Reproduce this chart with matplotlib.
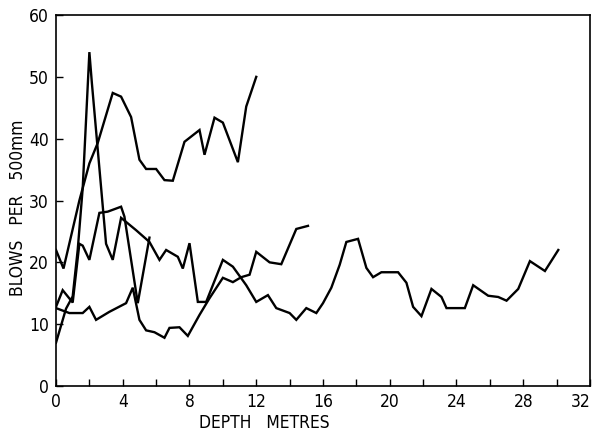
"""Blows per 500 mm vs depth - four penetration test profiles"""
import matplotlib
matplotlib.use("Agg")
import matplotlib.pyplot as plt
import matplotlib.transforms as mtransforms

plt.rcParams["font.family"] = ["Liberation Sans Narrow", "DejaVu Sans"]
plt.rcParams["font.stretch"] = "condensed"   # old drafting lettering is narrow

# profile A: starts ~22, rises to the 47 hump, ends at 12 m / 50 blows
depth_a = [0, 0.45, 1.4, 2.0, 2.5, 3.4, 3.9, 4.5, 5.0, 5.4, 6.0, 6.5, 7.0, 7.7,
           8.6, 8.9, 9.5, 10.0, 10.9, 11.4, 12.0]
blows_a = [22, 19, 30, 36, 39.3, 47.4, 46.8, 43.5, 36.6, 35.1, 35.1, 33.3, 33.2, 39.5,
           41.4, 37.4, 43.4, 42.6, 36.2, 45.2, 50]

# profile B: short one, plateau at ~29, ends at 5.6 m
depth_b = [0, 0.4, 1.0, 1.4, 1.6, 2.0, 2.6, 3.1, 3.9, 4.1, 4.9, 5.6]
blows_b = [12.8, 15.5, 13.5, 23, 22.7, 20.4, 28, 28.2, 29, 27.4, 13.4, 24]

# profile C: the 54 spike, then the long run out to 30 m
depth_c = [0, 0.6, 1.0, 1.3, 1.6, 2.0, 2.15, 3.0, 3.4, 3.9, 4.8, 5.6, 6.2, 6.6,
           7.3, 7.6, 8.0, 8.5, 9.0, 10.0, 10.6, 11.4, 12.0, 12.7, 13.2, 14.0,
           14.4, 15.0, 15.6, 16.0, 16.5, 17.0, 17.4, 18.1, 18.6, 19.0, 19.5,
           20.5, 21.0, 21.4, 21.9, 22.5, 23.1, 23.4, 24.5, 25.0, 25.9, 26.5,
           27.0, 27.7, 28.4, 29.3, 30.1]
blows_c = [7, 12.5, 14.5, 22, 32, 54, 49, 23, 20.4, 27.2, 25.2, 23.3, 20.4, 22,
           20.9, 19, 23.1, 13.6, 13.6, 20.4, 19.3, 16.3, 13.6, 14.7, 12.6, 11.8,
           10.7, 12.6, 11.8, 13.4, 15.9, 19.6, 23.3, 23.8, 19.1, 17.6, 18.4,
           18.4, 16.7, 12.8, 11.3, 15.7, 14.4, 12.6, 12.6, 16.3, 14.6, 14.4,
           13.8, 15.7, 20.2, 18.6, 22]

# profile D: low and bumpy, ends at 15 m / ~26
depth_d = [0, 0.8, 1.6, 2.0, 2.4, 3.2, 4.2, 4.6, 5.0, 5.4, 5.9, 6.5, 6.8, 7.4,
           7.9, 8.6, 9.2, 10.0, 10.6, 11.1, 11.6, 12.0, 12.8, 13.5, 14.4, 15.1]
blows_d = [12.6, 11.8, 11.8, 12.8, 10.7, 12, 13.4, 15.9, 10.7, 9, 8.7, 7.8, 9.4, 9.5,
           8.1, 11.5, 14.2, 17.5, 16.8, 17.6, 18, 21.7, 20, 19.7, 25.4, 25.9]

x_major = list(range(0, 33, 4))
x_minor = list(range(0, 33, 2))
y_major = list(range(0, 61, 10))

fig = plt.figure(figsize=(5.92, 4.38), dpi=100)
ax = fig.add_axes([0.0946, 0.1187, 0.902, 0.847])

for d, b in ((depth_a, blows_a), (depth_b, blows_b), (depth_c, blows_c), (depth_d, blows_d)):
    ax.plot(d, b, color="black", lw=1.7, solid_joinstyle="miter")

ax.set_xlim(0, 32)
ax.set_ylim(0, 60)
ax.set_xticks(x_major)
ax.set_xticks(x_minor, minor=True)
ax.set_yticks(y_major)
ax.tick_params(direction="in", length=5, width=1, labelsize=12.5, pad=5)
ax.tick_params(which="minor", direction="in", length=5, width=1)
for s in ax.spines.values():
    s.set_linewidth(1.2)

# last x label sits against the page edge; nudge it left so it stays whole
last = ax.get_xticklabels()[-1]
last.set_transform(last.get_transform() + mtransforms.ScaledTranslation(-7 / 72, 0, fig.dpi_scale_trans))

ax.set_xlabel("DEPTH   METRES", fontsize=12.5)
ax.xaxis.set_label_coords(0.39, -0.075)
ax.set_ylabel("BLOWS   PER   500mm", fontsize=12.5)
ax.yaxis.set_label_coords(-0.055, 0.48)

fig.savefig("out.png", dpi=100)
